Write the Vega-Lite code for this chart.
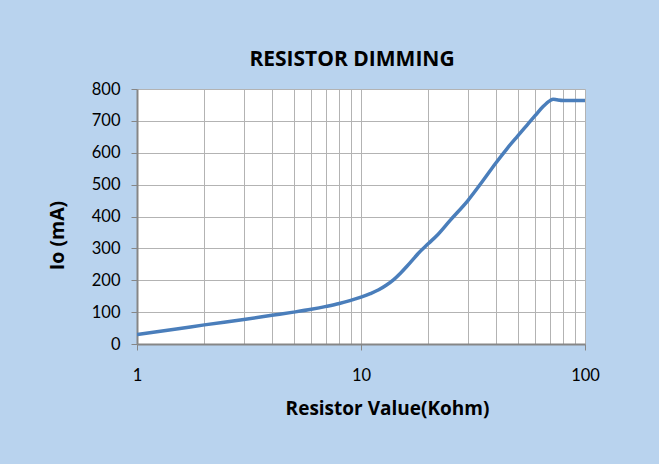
{
  "$schema": "https://vega.github.io/schema/vega-lite/v6.json",
  "width": 448,
  "height": 255,
  "autosize": {"type": "none"},
  "padding": {"left": 137, "top": 89, "right": 74, "bottom": 120},
  "background": "#B9D3EE",
  "view": {"fill": "white", "stroke": null},
  "title": {
    "text": "RESISTOR DIMMING",
    "font": "Open Sans",
    "fontSize": 21,
    "fontWeight": "bold",
    "color": "#000000",
    "anchor": "middle",
    "offset": 11,
    "dx": -9
  },
  "data": {
    "values": [
      {"r": 1, "io": 30},
      {"r": 1.5, "io": 47},
      {"r": 2, "io": 60},
      {"r": 3, "io": 77},
      {"r": 4, "io": 90},
      {"r": 5, "io": 100},
      {"r": 6, "io": 109},
      {"r": 7, "io": 118},
      {"r": 8, "io": 127},
      {"r": 9, "io": 137},
      {"r": 10, "io": 147},
      {"r": 11, "io": 158},
      {"r": 12, "io": 170},
      {"r": 13, "io": 185},
      {"r": 14, "io": 202},
      {"r": 15, "io": 222},
      {"r": 16, "io": 243},
      {"r": 17, "io": 264},
      {"r": 18, "io": 284},
      {"r": 20, "io": 315},
      {"r": 22, "io": 343},
      {"r": 25, "io": 388},
      {"r": 30, "io": 450},
      {"r": 35, "io": 512},
      {"r": 40, "io": 568},
      {"r": 45, "io": 614},
      {"r": 50, "io": 652},
      {"r": 55, "io": 686},
      {"r": 60, "io": 717},
      {"r": 65, "io": 745},
      {"r": 70, "io": 764},
      {"r": 72, "io": 768},
      {"r": 75, "io": 766},
      {"r": 80, "io": 764},
      {"r": 90, "io": 764},
      {"r": 100, "io": 764}
    ]
  },
  "mark": {"type": "line", "color": "#4A7EBB", "strokeWidth": 3.5, "interpolate": "monotone", "clip": true},
  "encoding": {
    "x": {
      "field": "r",
      "type": "quantitative",
      "scale": {"type": "log", "domain": [1, 100], "nice": false},
      "axis": {
        "title": "Resistor Value(Kohm)",
        "values": [1, 2, 3, 4, 5, 6, 7, 8, 9, 10, 20, 30, 40, 50, 60, 70, 80, 90, 100],
        "labelExpr": "(datum.value == 1 || datum.value == 10 || datum.value == 100) ? datum.label : ''",
        "format": "d",
        "tickOpacity": {"condition": {"test": "datum.value == 1 || datum.value == 10 || datum.value == 100", "value": 1}, "value": 0},
        "tickSize": 6,
        "tickColor": "#868686",
        "domainColor": "#868686",
        "domainWidth": 2,
        "gridColor": "#B3B3B3",
        "gridWidth": 1,
        "gridOpacity": 1,
        "labelFont": "Lato",
        "labelFontSize": 16.5,
        "labelColor": "#000000",
        "labelPadding": 17,
        "labelFlush": false,
        "labelOverlap": false,
        "titleFont": "Open Sans",
        "titleFontSize": 19,
        "titleFontWeight": "bold",
        "titleColor": "#000000",
        "titleX": 250,
        "titleY": 64,
        "titleBaseline": "middle",
        "titleAlign": "center"
      }
    },
    "y": {
      "field": "io",
      "type": "quantitative",
      "scale": {"domain": [0, 800], "nice": false},
      "axis": {
        "title": "Io (mA)",
        "values": [0, 100, 200, 300, 400, 500, 600, 700, 800],
        "tickSize": 6,
        "tickColor": "#868686",
        "domainColor": "#868686",
        "domainWidth": 2,
        "gridColor": "#B3B3B3",
        "gridWidth": 1,
        "gridOpacity": 1,
        "labelFont": "Lato",
        "labelFontSize": 16.5,
        "labelColor": "#000000",
        "labelPadding": 11,
        "labelFlush": false,
        "titleFont": "Open Sans",
        "titleFontSize": 19.5,
        "titleFontWeight": "bold",
        "titleColor": "#000000",
        "titleX": -80,
        "titleY": 146,
        "titleBaseline": "middle",
        "titleAlign": "center",
        "titleAngle": 270
      }
    }
  }
}
